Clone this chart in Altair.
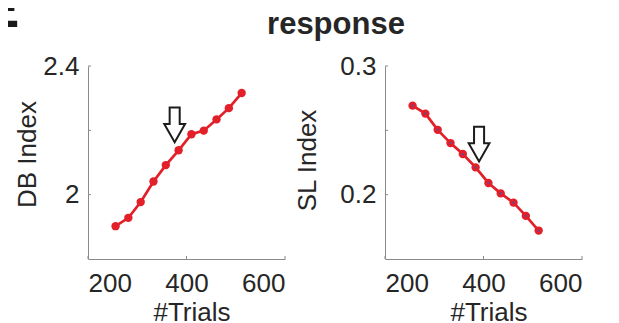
import altair as alt
import pandas as pd

# ---- data ----
trials = [256, 282, 307, 333, 358, 384, 410, 435, 461, 486, 512]
db_index = [1.902, 1.928, 1.977, 2.041, 2.092, 2.138, 2.188, 2.199, 2.234, 2.269, 2.316]
sl_index = [0.2692, 0.2630, 0.2504, 0.2401, 0.2316, 0.2212, 0.2091, 0.2010, 0.1938, 0.1835, 0.1721]

arrow_left = {"x": [376], "y": [2.217]}
arrow_right = {"x": [391], "y": [0.2393]}

x_domain = [200, 600]
x_ticks = [200, 400, 600]
db_domain = [1.8, 2.4]
db_labels = [2, 2.4]
db_ticks = [2.0, 2.2, 2.4]
sl_domain = [0.15, 0.3]
sl_labels = [0.2, 0.3]
sl_ticks = [0.2, 0.25, 0.3]

panel_title = ["response"]
panel_letter = ["E"]

RED = "#e31f29"
GREY = "#8a8a8a"
TXT = "#262626"
FONT = "Liberation Sans"
W, H = 197, 193
ARROW = "M-0.29,-1 L0.29,-1 L0.29,-0.05 L0.6,-0.05 L0,1 L-0.6,-0.05 L-0.29,-0.05 Z"


def panel(values, ydomain, ylabels, yticks, ytitle, arrow, ytitle_x, ytitle_y,
          centers=False, extra=None):
    df = pd.DataFrame({"trials": trials, "val": values})
    xs = alt.Scale(domain=x_domain, nice=False, zero=False)
    ys = alt.Scale(domain=ydomain, nice=False, zero=False)
    xax = alt.Axis(values=x_ticks, format="d", title="#Trials",
                   titleX=W / 2 + 5, titleY=40, titleAlign="center")
    yax = alt.Axis(values=ylabels, format="~g", title=ytitle,
                   titleX=ytitle_x, titleY=ytitle_y, titleAlign="center")

    def enc(xf, yf):
        return dict(x=alt.X(xf, scale=xs, axis=xax), y=alt.Y(yf, scale=ys, axis=yax))

    base = alt.Chart(df)
    line = base.mark_line(color=RED, strokeWidth=2.7).encode(**enc("trials:Q", "val:Q"))
    pts = base.mark_point(filled=True, color=RED, size=70, opacity=1).encode(
        **enc("trials:Q", "val:Q"))
    layers = [line, pts]
    if centers:
        layers.append(base.mark_point(filled=True, color="#5a4c9c", size=5, opacity=1).encode(
            **enc("trials:Q", "val:Q")))
    ytk = alt.Chart(pd.DataFrame({"v": yticks})).mark_rule(color=GREY, strokeWidth=1).encode(
        y=alt.Y("v:Q", scale=ys, axis=yax), x=alt.value(0), x2=alt.value(3))
    xtk = alt.Chart(pd.DataFrame({"v": x_ticks})).mark_rule(color=GREY, strokeWidth=1).encode(
        x=alt.X("v:Q", scale=xs, axis=xax), y=alt.value(H), y2=alt.value(H - 3))
    arr = alt.Chart(pd.DataFrame(arrow)).mark_point(
        shape=ARROW, filled=True, fill="white", stroke="#1c1c1c", strokeWidth=2,
        size=1200, opacity=1).encode(**enc("x:Q", "y:Q"))
    layers += [ytk, xtk, arr]
    if extra:
        layers += extra
    return alt.layer(*layers).properties(width=W, height=H)


title_txt = alt.Chart(pd.DataFrame({"t": panel_title})).mark_text(
    font=FONT, fontSize=31, fontWeight="bold", color=TXT, align="center",
    baseline="alphabetic").encode(text="t:N", x=alt.value(248), y=alt.value(-32))
letter_txt = alt.Chart(pd.DataFrame({"t": panel_letter})).mark_text(
    font=FONT, fontSize=56, fontWeight="bold", color="#1a1a1a", align="left",
    baseline="alphabetic").encode(text="t:N", x=alt.value(-106), y=alt.value(-39))

left = panel(db_index, db_domain, db_labels, db_ticks, "DB Index", arrow_left,
             -48, 88, extra=[title_txt, letter_txt])
right = panel(sl_index, sl_domain, sl_labels, sl_ticks, "SL Index", arrow_right,
              -65, 94, centers=True)

chart = alt.hconcat(left, right, spacing=100, bounds="flush").properties(
    padding={"left": -26, "top": -26, "right": 0, "bottom": 0}
).configure_view(stroke=None).configure_axis(
    grid=False, domainColor=GREY, domainWidth=1, tickSize=0, ticks=False,
    labelFont=FONT, labelFontSize=26, labelColor=TXT, labelPadding=10,
    titleFont=FONT, titleFontSize=26, titleFontWeight="normal", titleColor=TXT,
).configure_axisX(labelPadding=11).configure_axisY(labelPadding=9)

chart.save("out.html", embed_options={"renderer": "svg", "actions": False})
